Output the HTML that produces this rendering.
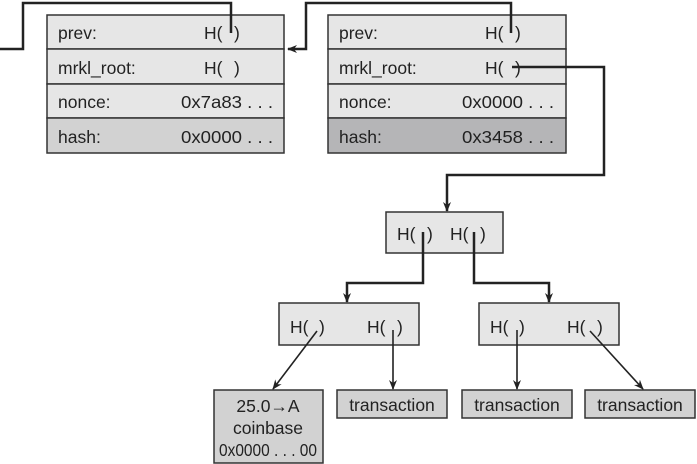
<!DOCTYPE html>
<html><head><meta charset="utf-8"><style>
html,body{margin:0;padding:0;background:#fff;}
svg{display:block;}
text{font-family:"Liberation Sans",sans-serif;font-size:17.5px;fill:#222;}
</style></head><body>
<svg width="697" height="464" viewBox="0 0 697 464" xmlns="http://www.w3.org/2000/svg">
<defs>
<marker id="a" markerWidth="10" markerHeight="10" refX="9" refY="5" orient="auto" markerUnits="userSpaceOnUse">
<path d="M0,1 L10,5 L0,9 L3,5 z" fill="#222"/></marker>
</defs>
<g stroke="#333" stroke-width="1.5">
<rect x="47" y="15" width="237" height="34" fill="#e6e6e6"/>
<rect x="47" y="49" width="237" height="35" fill="#e6e6e6"/>
<rect x="47" y="84" width="237" height="34" fill="#e6e6e6"/>
<rect x="47" y="118" width="237" height="35" fill="#d2d2d2"/>
<rect x="328" y="15" width="238" height="34" fill="#e6e6e6"/>
<rect x="328" y="49" width="238" height="35" fill="#e6e6e6"/>
<rect x="328" y="84" width="238" height="34" fill="#e6e6e6"/>
<rect x="328" y="118" width="238" height="35" fill="#b5b5b7"/>
<rect x="386" y="212" width="117" height="41" fill="#e6e6e6"/>
<rect x="279" y="303" width="140" height="42" fill="#e6e6e6"/>
<rect x="479" y="303" width="140" height="42" fill="#e6e6e6"/>
<rect x="214" y="390" width="109" height="73" fill="#d2d2d2"/>
<rect x="337" y="390" width="110" height="28" fill="#d2d2d2"/>
<rect x="462" y="390" width="110" height="28" fill="#d2d2d2"/>
<rect x="585" y="390" width="110" height="28" fill="#d2d2d2"/>
</g>
<g fill="none" stroke="#222" stroke-width="2.5">
<path d="M0,49 H23 V3 H231 V33"/>
<path d="M511,33 V3 H306 V49 H288" marker-end="url(#a)"/>
<path d="M512,67 H604 V175 H447 V211" marker-end="url(#a)"/>
<path d="M423,232 V283 H347 V302" marker-end="url(#a)"/>
<path d="M474,232 V283 H549 V302" marker-end="url(#a)"/>
</g>
<g fill="none" stroke="#222" stroke-width="1.6">
<path d="M317,331 L273,389" marker-end="url(#a)"/>
<path d="M393,330 V389" marker-end="url(#a)"/>
<path d="M517,330 V389" marker-end="url(#a)"/>
<path d="M590,331 L643,389" marker-end="url(#a)"/>
</g>
<text x="58" y="39">prev:</text><text x="204" y="39">H(</text><text x="234" y="39">)</text>
<text x="58" y="74">mrkl_root:</text><text x="204" y="74">H(</text><text x="234" y="74">)</text>
<text x="58" y="108">nonce:</text><text x="181" y="108" textLength="92" lengthAdjust="spacingAndGlyphs">0x7a83 . . .</text>
<text x="58" y="143">hash:</text><text x="181" y="143" textLength="92" lengthAdjust="spacingAndGlyphs">0x0000 . . .</text>
<text x="339" y="39">prev:</text><text x="485" y="39">H(</text><text x="515" y="39">)</text>
<text x="339" y="74">mrkl_root:</text><text x="485" y="74">H(</text><text x="515" y="74">)</text>
<text x="339" y="108">nonce:</text><text x="462" y="108" textLength="92" lengthAdjust="spacingAndGlyphs">0x0000 . . .</text>
<text x="339" y="143">hash:</text><text x="462" y="143" textLength="92" lengthAdjust="spacingAndGlyphs">0x3458 . . .</text>
<text x="397" y="240">H(</text><text x="427" y="240">)</text>
<text x="450" y="240">H(</text><text x="480" y="240">)</text>
<text x="290" y="333">H(</text><text x="319" y="333">)</text>
<text x="367" y="333">H(</text><text x="397" y="333">)</text>
<text x="490" y="333">H(</text><text x="519" y="333">)</text>
<text x="567" y="333">H(</text><text x="597" y="333">)</text>
<text x="268" y="412" text-anchor="middle">25.0→A</text>
<text x="268" y="434" text-anchor="middle">coinbase</text>
<text x="219" y="456" textLength="98" lengthAdjust="spacingAndGlyphs">0x0000 . . . 00</text>
<text x="392" y="411" text-anchor="middle">transaction</text>
<text x="517" y="411" text-anchor="middle">transaction</text>
<text x="640" y="411" text-anchor="middle">transaction</text>
</svg>
</body></html>
